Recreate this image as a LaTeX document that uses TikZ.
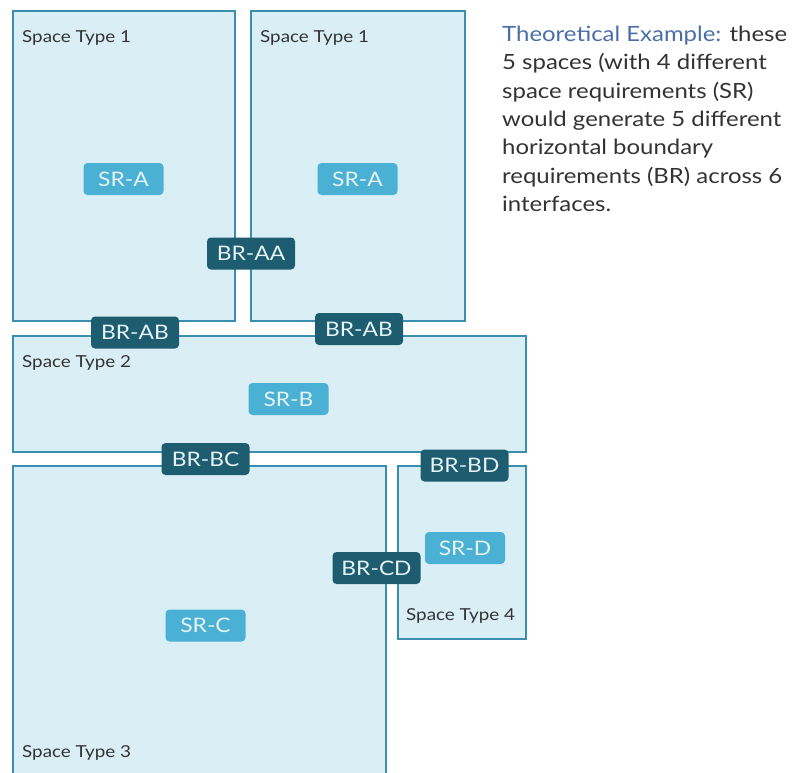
\documentclass[tikz,border=0pt]{standalone}
\usepackage{fontspec}
\setmainfont{Lato}[FakeStretch=1.14]
\definecolor{boxfill}{HTML}{DAEEF6}
\definecolor{boxline}{HTML}{3A8FB0}
\definecolor{brfill}{HTML}{1E5C70}
\definecolor{srfill}{HTML}{4BB1D4}
\definecolor{tagtext}{HTML}{E6F3F7}
\definecolor{labeltext}{HTML}{333333}
\definecolor{titleblue}{HTML}{4A6FA8}
\begin{document}
\begin{tikzpicture}[x=1pt,y=-1pt,
  spacebox/.style={draw=boxline, fill=boxfill, line width=1.6pt, inner sep=0pt, rectangle},
  tagbase/.style={rounded corners=4pt, inner sep=0pt, text=tagtext, font=\fontsize{20}{20}\selectfont},
  brtag/.style={tagbase, fill=brfill, minimum width=88, minimum height=32},
  srtag/.style={tagbase, fill=srfill, minimum width=80, minimum height=32},
  stlabel/.style={anchor=west, inner sep=0pt, text=labeltext, font=\fontsize{16.5}{16.5}\selectfont}]
\useasboundingbox (0,0) rectangle (794,772);
\fill[white] (0,0) rectangle (794,772);
% spaces
\node[spacebox, minimum width=222, minimum height=310] (s1a) at (124,166) {};
\node[spacebox, minimum width=214, minimum height=310] (s1b) at (358,166) {};
\node[spacebox, minimum width=513, minimum height=116] (s2) at (269.5,394) {};
\coordinate (s3bl) at (13,773);
\coordinate (s3tl) at (13,466);
\coordinate (s3tr) at (386,466);
\coordinate (s3br) at (386,773);
\fill[boxfill] (s3bl) -- (s3tl) -- (s3tr) -- (s3br) -- cycle;
\draw[boxline, line width=1.6pt] (s3bl) -- (s3tl) -- (s3tr) -- (s3br);
\node[spacebox, minimum width=128, minimum height=173] (s4) at (462,552.5) {};
% space labels
\node[stlabel] (l1a) at (22,38) {Space Type 1};
\node[stlabel] (l1b) at (260,38) {Space Type 1};
\node[stlabel] (l2) at (22,363) {Space Type 2};
\node[stlabel] (l3) at (22,753) {Space Type 3};
\node[stlabel] (l4) at (406,616) {Space Type 4};
% SR tags
\node[srtag] (sra1) at (123.5,179) {SR-A};
\node[srtag] (sra2) at (357.5,179) {SR-A};
\node[srtag] (srb) at (288.5,399) {SR-B};
\node[srtag] (src) at (205.5,625.5) {SR-C};
\node[srtag] (srd) at (465,548) {SR-D};
% BR tags
\node[brtag] (braa) at (251,253.5) {BR-AA};
\node[brtag] (brab1) at (135,332.5) {BR-AB};
\node[brtag] (brab2) at (359,329) {BR-AB};
\node[brtag] (brbc) at (205.5,459) {BR-BC};
\node[brtag] (brbd) at (464.5,465.5) {BR-BD};
\node[brtag] (brcd) at (376.5,568) {BR-CD};
% description
\node[anchor=north west, inner sep=0pt, align=left, text=labeltext,
  font=\fontsize{21}{28.3}\selectfont] (desc) at (502,26)
  {\textcolor{titleblue}{Theoretical Example:} these\\
   5 spaces (with 4 different\\
   space requirements (SR)\\
   would generate 5 different\\
   horizontal boundary\\
   requirements (BR) across 6\\
   interfaces.};
\end{tikzpicture}
\end{document}
